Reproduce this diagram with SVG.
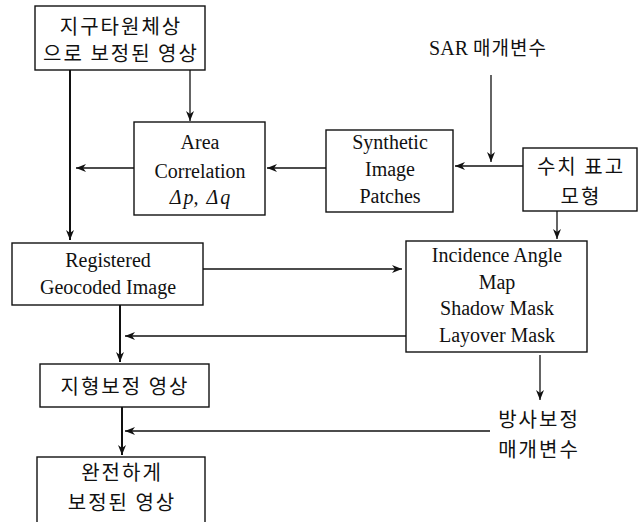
<svg xmlns="http://www.w3.org/2000/svg" width="641" height="522" viewBox="0 0 641 522">
<defs>
<marker id="ah" viewBox="0 0 10 8" refX="10" refY="4" markerWidth="10" markerHeight="8" markerUnits="userSpaceOnUse" orient="auto">
<path d="M0,0 L10,4 L0,8 L3,4 Z" fill="#111"/>
</marker>
<style>
.box{fill:#fff;stroke:#111;stroke-width:1.4}
.en{font-family:"Liberation Serif","Times New Roman",serif;font-size:20px;fill:#111;text-anchor:middle}
.ko{font-family:"Noto Sans CJK KR","Noto Sans",sans-serif;font-size:20px;fill:#111;text-anchor:middle;letter-spacing:2px}
.ln{fill:none;stroke:#111;stroke-width:1.3}
.th{stroke-width:2}
</style>
</defs>
<rect width="641" height="522" fill="#fff"/>
<g id="connectors">
<path class="ln th" d="M70,70 V240" marker-end="url(#ah)"/>
<path class="ln" d="M190,70 V121" marker-end="url(#ah)"/>
<path class="ln" d="M134,168 H76" marker-end="url(#ah)"/>
<path class="ln" d="M326,168 H267" marker-end="url(#ah)"/>
<path class="ln" d="M523,166 H455" marker-end="url(#ah)"/>
<path class="ln" d="M491,75 V162" marker-end="url(#ah)"/>
<path class="ln" d="M557,211 V239" marker-end="url(#ah)"/>
<path class="ln" d="M203,269 H402" marker-end="url(#ah)"/>
<path class="ln" d="M406,336 H125" marker-end="url(#ah)"/>
<path class="ln th" d="M120,305 V362" marker-end="url(#ah)"/>
<path class="ln" d="M540,355 V400" marker-end="url(#ah)"/>
<path class="ln" d="M490,431 H125" marker-end="url(#ah)"/>
<path class="ln th" d="M122,407 V455" marker-end="url(#ah)"/>
</g>
<g id="n-ellipsoid">
<rect class="box" x="35" y="6" width="170" height="64"/>
<text class="ko" x="121" y="34" font-size="18.5" letter-spacing="3">지구타원체상</text>
<text class="ko" x="121" y="61" font-size="18.5" letter-spacing="3">으로 보정된 영상</text>
</g>
<g id="n-sar">
<text x="488" y="55" style="font-family:'Liberation Serif',serif;font-size:20px;fill:#111;text-anchor:middle">SAR <tspan style="font-family:'Noto Sans CJK KR',sans-serif;font-size:19px;letter-spacing:1px">매개변수</tspan></text>
</g>
<g id="n-area">
<rect class="box" x="134" y="122" width="131" height="93"/>
<text class="en" x="200" y="149">Area</text>
<text class="en" x="200" y="178">Correlation</text>
<text class="en" x="200" y="204" font-style="italic" font-size="21">Δ<tspan dx="2">p,</tspan><tspan dx="8">Δ</tspan><tspan dx="2">q</tspan></text>
</g>
<g id="n-synthetic">
<rect class="box" x="326" y="130" width="127" height="82"/>
<text class="en" x="390" y="149">Synthetic</text>
<text class="en" x="390" y="176">Image</text>
<text class="en" x="390" y="203">Patches</text>
</g>
<g id="n-dem">
<rect class="box" x="523" y="148" width="114" height="63"/>
<text class="ko" x="581" y="174">수치 표고</text>
<text class="ko" x="581" y="204">모형</text>
</g>
<g id="n-registered">
<rect class="box" x="12" y="243" width="191" height="62"/>
<text class="en" x="108" y="267">Registered</text>
<text class="en" x="108" y="294">Geocoded Image</text>
</g>
<g id="n-incidence">
<rect class="box" x="406" y="241" width="181" height="111"/>
<text class="en" x="497" y="262">Incidence Angle</text>
<text class="en" x="497" y="289">Map</text>
<text class="en" x="497" y="315">Shadow Mask</text>
<text class="en" x="497" y="342">Layover Mask</text>
</g>
<g id="n-terrain">
<rect class="box" x="40" y="364" width="169" height="43"/>
<text class="ko" x="125" y="394">지형보정 영상</text>
</g>
<g id="n-radiometric">
<text class="ko" x="539" y="427">방사보정</text>
<text class="ko" x="539" y="457">매개변수</text>
</g>
<g id="n-final">
<rect class="box" x="37" y="457" width="168" height="70"/>
<text class="ko" x="122" y="480">완전하게</text>
<text class="ko" x="122" y="510">보정된 영상</text>
</g>
</svg>
